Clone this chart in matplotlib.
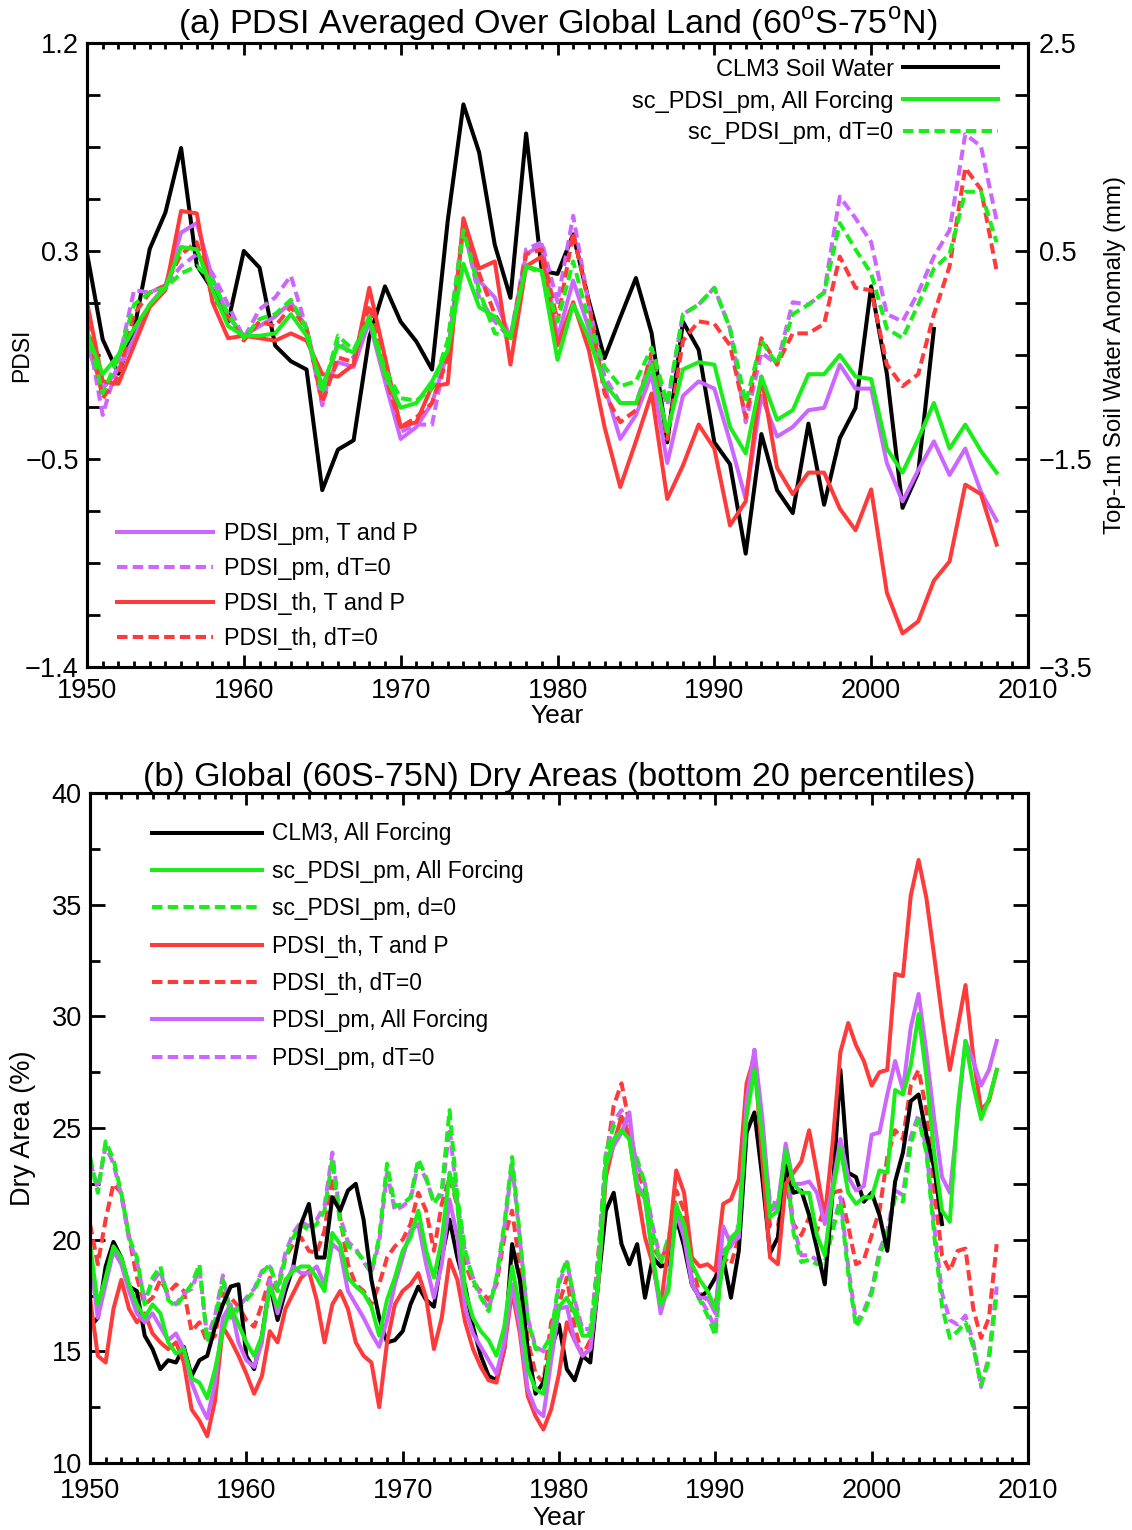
import numpy as np
import matplotlib.pyplot as plt
from matplotlib.ticker import MultipleLocator, FixedLocator, FuncFormatter, NullFormatter

plt.rcParams['font.family'] = 'Liberation Sans'
plt.rcParams['mathtext.fontset'] = 'custom'
plt.rcParams['mathtext.rm'] = 'Liberation Sans'
plt.rcParams['axes.linewidth'] = 2.2

GREEN = '#1aee1a'
RED = '#ff3a3a'
PURPLE = '#cc66ff'
DASH = (2.6, 1.3)
LW = 2.9

# ---------------- panel (a): annual PDSI, 1950-2008 ----------------
years_a = np.arange(1950, 2009)
years_clm_a = np.arange(1950, 2005)

# CLM3 top-1m soil water anomaly (mm), right axis
clm3_soil = [0.48, -0.35, -0.68, -0.26, 0.52, 0.87, 1.49, 0.36, 0.13, -0.18,
             0.50, 0.34, -0.41, -0.56, -0.64, -1.80, -1.41, -1.32, -0.33, 0.16,
             -0.18, -0.37, -0.64, 0.79, 1.91, 1.45, 0.56, 0.05, 1.63, 0.31,
             0.28, 0.66, 0.02, -0.53, -0.14, 0.24, -0.29, -1.34, -0.18, -0.45,
             -1.34, -1.55, -2.41, -1.26, -1.80, -2.02, -1.16, -1.94, -1.30, -1.01,
             0.16, -0.68, -1.97, -1.63, -0.25]

sc_pm_all = [-0.01, -0.18, -0.10, 0.01, 0.11, 0.18, 0.35, 0.34, 0.17, 0.02,
             -0.02, -0.02, -0.01, 0.07, -0.02, -0.23, -0.06, -0.09, 0.05, -0.18,
             -0.32, -0.30, -0.21, -0.08, 0.28, 0.10, 0.06, -0.03, 0.27, 0.25,
             -0.12, 0.11, -0.03, -0.22, -0.30, -0.30, -0.14, -0.42, -0.16, -0.13,
             -0.14, -0.40, -0.51, -0.19, -0.37, -0.33, -0.18, -0.18, -0.10, -0.19,
             -0.20, -0.49, -0.59, -0.45, -0.30, -0.49, -0.39, -0.50, -0.59]
sc_pm_dt0 = [0.01, -0.26, -0.11, 0.11, 0.16, 0.18, 0.24, 0.27, 0.21, 0.07,
             -0.03, 0.05, 0.07, 0.13, 0.01, -0.26, -0.02, -0.08, 0.06, -0.16,
             -0.28, -0.29, -0.24, -0.04, 0.42, 0.17, -0.01, -0.02, 0.27, 0.24,
             0.04, 0.29, 0.04, -0.15, -0.23, -0.21, -0.07, -0.30, 0.07, 0.11,
             0.18, 0.01, -0.30, -0.04, -0.14, 0.07, 0.11, 0.16, 0.45, 0.34,
             0.24, 0.01, -0.03, 0.11, 0.26, 0.32, 0.58, 0.58, 0.37]
pm_tp = [-0.06, -0.24, -0.16, -0.03, 0.11, 0.19, 0.41, 0.45, 0.22, 0.06,
         -0.02, 0.02, 0.06, 0.12, 0.01, -0.26, -0.13, -0.15, 0.04, -0.21,
         -0.45, -0.40, -0.30, -0.09, 0.42, 0.21, 0.14, -0.03, 0.32, 0.36,
         -0.03, 0.21, 0.01, -0.23, -0.45, -0.35, -0.18, -0.55, -0.27, -0.21,
         -0.24, -0.46, -0.70, -0.27, -0.44, -0.40, -0.33, -0.32, -0.14, -0.24,
         -0.24, -0.55, -0.71, -0.58, -0.46, -0.60, -0.49, -0.67, -0.79]
pm_dt0 = [0.01, -0.35, -0.13, 0.17, 0.16, 0.19, 0.27, 0.32, 0.24, 0.11,
          -0.03, 0.09, 0.14, 0.23, 0.01, -0.31, -0.04, -0.11, 0.04, -0.19,
          -0.42, -0.39, -0.39, -0.06, 0.44, 0.14, 0.04, -0.03, 0.34, 0.37,
          0.12, 0.48, 0.11, -0.19, -0.30, -0.30, -0.11, -0.31, 0.07, 0.11,
          0.18, 0.01, -0.38, -0.09, -0.14, 0.12, 0.11, 0.16, 0.56, 0.47,
          0.37, 0.07, 0.04, 0.16, 0.31, 0.42, 0.82, 0.77, 0.46]
th_tp = [0.12, -0.21, -0.22, -0.06, 0.10, 0.17, 0.50, 0.49, 0.12, -0.03,
         -0.02, -0.03, -0.04, -0.01, -0.04, -0.18, -0.19, -0.14, 0.18, -0.11,
         -0.40, -0.38, -0.23, -0.22, 0.47, 0.26, 0.29, -0.14, 0.27, 0.31,
         -0.06, 0.12, -0.08, -0.40, -0.65, -0.46, -0.26, -0.70, -0.56, -0.39,
         -0.49, -0.81, -0.71, -0.19, -0.57, -0.68, -0.59, -0.59, -0.74, -0.83,
         -0.66, -1.09, -1.26, -1.21, -1.04, -0.96, -0.64, -0.68, -0.89]
th_dt0 = [0.04, -0.28, -0.19, 0.07, 0.16, 0.19, 0.32, 0.37, 0.14, 0.06,
          -0.04, 0.04, 0.02, 0.10, 0.01, -0.30, -0.11, -0.13, 0.11, -0.18,
          -0.40, -0.36, -0.30, -0.11, 0.44, 0.24, 0.07, -0.04, 0.32, 0.34,
          0.04, 0.41, 0.11, -0.26, -0.38, -0.33, -0.09, -0.45, -0.04, 0.04,
          0.03, -0.06, -0.36, -0.03, -0.14, -0.01, -0.01, 0.03, 0.31, 0.18,
          0.17, -0.14, -0.23, -0.18, 0.07, 0.27, 0.68, 0.59, 0.25]

# ---------------- panel (b): dry area (%), half-year steps ----------------
years_b = np.arange(1950.0, 2008.01, 0.5)
years_clm_b = np.arange(1950.0, 2004.51, 0.5)

clm3_dry = [16.1, 16.5, 18.8, 19.9, 19.2, 17.9, 17.7, 15.7, 15.1, 14.2,
            14.6, 14.5, 15.2, 13.9, 14.6, 14.8, 16.1, 17.1, 17.9, 18.0,
            14.8, 14.2, 15.7, 18.0, 16.4, 17.7, 18.8, 20.7, 21.6, 19.2,
            19.2, 21.9, 21.3, 22.2, 22.5, 20.9, 18.2, 16.5, 15.4, 15.5,
            15.9, 17.1, 17.9, 17.3, 17.0, 19.2, 20.9, 19.2, 17.9, 16.1,
            14.8, 13.9, 13.7, 15.1, 19.8, 18.2, 15.1, 13.1, 13.6, 15.1,
            16.2, 14.2, 13.7, 14.8, 14.5, 18.0, 21.3, 22.1, 19.8, 18.9,
            19.8, 17.4, 19.2, 18.8, 18.9, 21.0, 19.7, 18.0, 17.4, 17.7,
            18.3, 19.2, 17.4, 19.5, 24.8, 25.7, 22.8, 19.4, 20.1, 23.3,
            22.1, 22.2, 21.1, 19.6, 18.0, 22.1, 27.6, 23.0, 22.8, 21.7,
            22.1, 21.1, 19.5, 22.6, 23.9, 26.2, 26.5, 24.7, 23.2, 20.7]
sc_pm_all_dry = [19.8, 17.1, 18.3, 19.7, 19.2, 18.0, 17.1, 16.5, 17.1, 16.7,
                 15.4, 14.9, 15.1, 13.8, 13.6, 12.9, 14.2, 15.9, 17.0, 16.2,
                 15.4, 14.8, 15.7, 17.9, 17.0, 18.2, 18.6, 18.8, 18.8, 18.3,
                 17.7, 20.3, 19.8, 18.3, 17.9, 17.6, 17.0, 15.7, 17.3, 18.3,
                 19.5, 20.1, 21.3, 19.5, 18.3, 20.0, 23.0, 21.6, 17.7, 16.5,
                 15.9, 15.5, 14.8, 16.1, 18.8, 16.9, 14.2, 13.3, 13.1, 15.4,
                 17.0, 17.4, 16.7, 15.7, 15.7, 18.0, 23.3, 24.5, 24.9, 24.5,
                 22.2, 21.9, 19.2, 17.1, 17.7, 21.5, 20.7, 18.9, 18.2, 17.7,
                 16.9, 18.9, 20.1, 20.4, 25.5, 27.6, 24.6, 21.0, 21.3, 24.0,
                 22.5, 22.1, 22.1, 20.2, 19.3, 22.1, 24.1, 22.1, 21.6, 21.9,
                 21.9, 23.1, 23.0, 26.7, 26.5, 27.8, 30.1, 27.3, 23.9, 21.3,
                 20.8, 25.8, 28.9, 26.9, 25.4, 26.3, 27.6]
sc_pm_d0_dry = [23.7, 22.1, 24.4, 23.6, 22.1, 20.1, 19.2, 17.1, 18.3, 18.8,
                17.3, 17.0, 17.5, 18.0, 18.9, 15.4, 16.4, 18.2, 16.5, 16.9,
                17.3, 17.7, 18.5, 18.9, 17.7, 19.2, 20.1, 20.7, 20.4, 20.7,
                21.3, 23.6, 20.7, 19.7, 19.5, 19.1, 18.6, 20.1, 23.4, 21.5,
                21.6, 21.9, 23.6, 22.8, 21.6, 22.2, 25.8, 21.9, 19.5, 18.2,
                17.4, 16.8, 18.3, 20.7, 23.7, 20.1, 16.4, 15.1, 15.1, 15.7,
                18.2, 19.1, 17.1, 15.8, 15.8, 18.9, 23.9, 25.1, 25.5, 24.6,
                23.6, 22.5, 20.3, 18.9, 20.1, 21.6, 20.1, 18.0, 17.3, 16.6,
                15.7, 19.5, 19.8, 20.7, 26.1, 28.0, 24.6, 21.5, 21.5, 23.6,
                20.3, 19.0, 19.1, 18.9, 18.9, 20.4, 21.7, 18.5, 16.1, 16.7,
                17.6, 19.3, 20.2, 21.9, 21.7, 24.3, 25.4, 23.9, 20.2, 17.0,
                15.6, 15.9, 16.3, 15.2, 13.5, 14.6, 17.6]
th_tp_dry = [17.4, 14.8, 14.5, 16.9, 18.2, 16.9, 16.3, 16.7, 15.8, 15.4,
             15.1, 15.4, 14.5, 12.4, 11.9, 11.2, 12.8, 16.1, 15.5, 14.8,
             14.0, 13.1, 13.9, 15.9, 15.4, 16.9, 17.6, 18.3, 18.6, 17.3,
             15.4, 17.1, 17.7, 16.9, 15.4, 14.8, 14.5, 12.5, 15.4, 17.1,
             17.7, 18.0, 18.5, 17.4, 15.1, 16.5, 19.1, 18.2, 16.3, 15.1,
             14.3, 13.7, 13.6, 15.1, 17.7, 15.8, 13.0, 12.1, 11.5, 12.4,
             14.0, 16.3, 15.5, 14.8, 15.1, 18.0, 22.8, 24.3, 25.5, 24.6,
             22.2, 20.1, 18.9, 17.0, 19.7, 23.1, 22.1, 19.2, 18.8, 18.9,
             18.6, 21.6, 21.8, 22.7, 27.0, 28.2, 23.6, 19.2, 18.9, 22.5,
             23.0, 23.5, 24.9, 23.0, 21.0, 24.3, 28.4, 29.7, 28.7, 28.0,
             26.9, 27.5, 27.6, 31.9, 31.8, 35.4, 37.0, 35.3, 32.7, 30.0,
             27.6, 29.5, 31.4, 28.2, 25.8, 26.2, 27.6]
th_dt0_dry = [20.7, 18.9, 20.9, 22.5, 22.1, 20.1, 18.3, 17.1, 17.4, 18.2,
              17.6, 18.0, 17.7, 15.9, 16.3, 15.4, 15.7, 17.6, 17.4, 17.0,
              16.4, 16.1, 17.1, 18.3, 17.7, 19.2, 19.8, 20.1, 19.5, 19.4,
              20.4, 22.8, 21.0, 18.9, 18.0, 17.7, 17.1, 18.0, 19.2, 19.7,
              20.0, 20.7, 22.1, 21.3, 19.5, 21.6, 22.8, 21.5, 18.9, 18.0,
              17.7, 17.3, 18.0, 20.1, 21.3, 18.8, 15.5, 14.0, 13.6, 16.3,
              17.1, 18.3, 16.1, 14.8, 15.5, 19.2, 23.6, 26.0, 27.0, 25.2,
              23.1, 22.2, 19.7, 19.1, 19.8, 22.2, 21.3, 18.8, 17.6, 17.3,
              17.1, 19.2, 18.9, 20.1, 26.2, 28.0, 24.5, 20.6, 20.6, 22.8,
              20.7, 20.2, 21.0, 20.4, 21.5, 22.1, 22.2, 20.6, 18.9, 19.1,
              20.2, 21.3, 23.7, 24.9, 24.5, 26.9, 27.6, 25.8, 22.2, 19.3,
              18.6, 19.5, 19.6, 16.9, 15.6, 16.5, 19.8]
pm_all_dry = [19.3, 16.5, 18.0, 19.5, 18.9, 17.7, 16.7, 16.3, 16.7, 16.1,
              15.5, 15.8, 15.1, 13.6, 12.7, 12.0, 13.6, 16.5, 17.1, 15.4,
              14.6, 14.3, 15.4, 18.2, 16.7, 18.0, 18.8, 18.5, 18.5, 18.8,
              18.0, 19.8, 19.5, 17.7, 17.1, 16.5, 15.8, 15.2, 16.4, 18.0,
              19.2, 20.4, 20.7, 18.9, 17.4, 18.9, 21.8, 20.1, 16.9, 15.8,
              15.2, 14.6, 14.0, 15.4, 18.0, 16.1, 13.3, 12.4, 12.1, 14.6,
              16.9, 17.0, 15.5, 14.8, 15.1, 18.0, 23.3, 24.2, 24.8, 25.7,
              22.5, 21.8, 19.2, 16.7, 18.0, 21.2, 20.1, 18.0, 17.4, 17.4,
              16.7, 20.6, 19.8, 20.1, 26.2, 28.5, 25.5, 21.3, 21.5, 24.3,
              22.5, 22.5, 22.6, 22.1, 20.7, 22.4, 24.5, 22.8, 22.2, 22.4,
              24.7, 24.8, 26.5, 28.0, 26.7, 29.5, 31.0, 28.4, 25.4, 22.8,
              22.1, 25.4, 28.9, 28.0, 26.9, 27.6, 28.9]
pm_dt0_dry = [23.5, 22.3, 24.2, 23.4, 22.0, 20.0, 19.0, 17.3, 18.1, 18.6,
              17.4, 17.1, 17.6, 17.8, 18.7, 15.6, 16.6, 18.4, 16.7, 17.0,
              17.4, 17.8, 18.6, 18.8, 17.9, 19.4, 20.3, 20.8, 20.6, 20.9,
              21.5, 23.9, 21.0, 19.9, 19.6, 19.0, 18.5, 19.9, 23.0, 21.3,
              21.5, 21.8, 23.4, 22.7, 21.7, 22.0, 25.0, 21.7, 19.4, 18.3,
              17.5, 16.9, 18.2, 20.5, 23.4, 20.0, 16.5, 15.2, 15.0, 15.6,
              18.0, 19.0, 17.3, 16.0, 16.0, 19.0, 23.8, 25.3, 25.8, 24.8,
              23.4, 22.5, 20.6, 19.1, 20.0, 21.4, 20.3, 18.3, 17.4, 16.8,
              16.0, 19.4, 19.7, 20.6, 26.3, 28.5, 24.8, 21.7, 21.6, 23.9,
              20.6, 19.3, 19.3, 19.1, 19.0, 20.5, 21.9, 18.8, 16.3, 16.8,
              17.7, 19.5, 20.4, 22.2, 22.0, 24.6, 25.6, 24.1, 20.6, 17.6,
              16.4, 16.2, 16.6, 15.4, 13.4, 14.8, 17.9]


def minus_fmt(x, pos):
    return f'{x:.1f}'.replace('-', '\u2212')


def style_xaxis(ax, pad, labelpad):
    ax.set_xlim(1950, 2010)
    ax.xaxis.set_major_locator(MultipleLocator(10))
    ax.xaxis.set_minor_locator(MultipleLocator(1))
    ax.tick_params(axis='x', which='both', direction='in', top=True, width=2)
    ax.tick_params(axis='x', which='major', length=8.5, labelsize=19.5, pad=pad)
    ax.tick_params(axis='x', which='minor', length=4.3)
    ax.set_xlabel('Year', fontsize=19, labelpad=labelpad)


fig = plt.figure(figsize=(11.32, 15.30), dpi=100)

# ---------- (a) ----------
ax = fig.add_axes([87 / 1132, 1 - 667 / 1530, 941 / 1132, 624 / 1530])
ax2 = ax.twinx()
ax2.set_zorder(ax.get_zorder() - 1)
ax.patch.set_visible(False)

ax.set_ylim(-1.4, 1.2)
ax.yaxis.set_major_locator(FixedLocator(np.linspace(-1.4, 1.2, 4)))
ax.yaxis.set_minor_locator(FixedLocator(np.linspace(-1.4, 1.2, 13)))
ax.yaxis.set_major_formatter(FuncFormatter(minus_fmt))
ax.tick_params(axis='y', which='both', direction='in', length=9.5, width=2,
               labelsize=19.5, pad=6, right=False)
style_xaxis(ax, pad=8, labelpad=0)
ax.set_ylabel('PDSI', fontsize=16.5)
ax.yaxis.set_label_coords(-0.057, 0.5)

ax2.set_ylim(-3.5, 2.5)
ax2.yaxis.set_major_locator(FixedLocator(np.linspace(-3.5, 2.5, 4)))
ax2.yaxis.set_minor_locator(FixedLocator(np.linspace(-3.5, 2.5, 13)))
ax2.yaxis.set_major_formatter(FuncFormatter(minus_fmt))
ax2.tick_params(axis='y', which='both', direction='in', length=9.5, width=2,
                labelsize=19.5, pad=8)
ax2.set_ylabel('Top-1m Soil Water Anomaly (mm)', fontsize=17.3, labelpad=8)

l_clm, = ax2.plot(years_clm_a, clm3_soil, color='black', lw=LW)
l_pm, = ax.plot(years_a, pm_tp, color=PURPLE, lw=LW)
l_pm0, = ax.plot(years_a, pm_dt0, color=PURPLE, lw=LW, dashes=DASH)
l_th, = ax.plot(years_a, th_tp, color=RED, lw=LW)
l_th0, = ax.plot(years_a, th_dt0, color=RED, lw=LW, dashes=DASH)
l_sc, = ax.plot(years_a, sc_pm_all, color=GREEN, lw=LW)
l_sc0, = ax.plot(years_a, sc_pm_dt0, color=GREEN, lw=LW, dashes=DASH)

ax.set_title(r'(a) PDSI Averaged Over Global Land (60$^{\rm o}$S-75$^{\rm o}$N)',
             fontsize=24.6, pad=3)

leg1 = ax.legend([l_clm, l_sc, l_sc0],
                 ['CLM3 Soil Water', 'sc_PDSI_pm, All Forcing', 'sc_PDSI_pm, dT=0'],
                 loc='upper right', bbox_to_anchor=(0.968, 0.975), markerfirst=False,
                 frameon=False, fontsize=17, handlelength=4.0, handletextpad=0.42,
                 labelspacing=0.42, borderpad=0, borderaxespad=0)
ax.add_artist(leg1)
ax.legend([l_pm, l_pm0, l_th, l_th0],
          ['PDSI_pm, T and P', 'PDSI_pm, dT=0', 'PDSI_th, T and P', 'PDSI_th, dT=0'],
          loc='lower left', bbox_to_anchor=(0.032, 0.027),
          frameon=False, fontsize=16.8, handlelength=4.1, handletextpad=0.5,
          labelspacing=0.52, borderpad=0, borderaxespad=0)

# ---------- (b) ----------
bx = fig.add_axes([90 / 1132, 1 - 1463 / 1530, 938 / 1132, 670 / 1530])
bx.set_ylim(10, 40)
bx.yaxis.set_major_locator(MultipleLocator(5))
bx.yaxis.set_minor_locator(MultipleLocator(2.5))
bx.tick_params(axis='y', which='both', direction='in', width=2, labelsize=19.5,
               pad=6, right=False)
bx.tick_params(axis='y', which='major', length=10.8)
bx.tick_params(axis='y', which='minor', length=7.2)
style_xaxis(bx, pad=11, labelpad=1.5)
bx.set_ylabel('Dry Area (%)', fontsize=19.5)
bx.yaxis.set_label_coords(-0.058, 0.5)

bx_r = bx.twinx()
bx_r.set_ylim(10, 40)
bx_r.yaxis.set_major_locator(MultipleLocator(2.5))
bx_r.yaxis.set_major_formatter(NullFormatter())
bx_r.tick_params(axis='y', direction='in', length=11, width=2)

kw = dict(lw=LW, solid_joinstyle='round')
b_th0, = bx.plot(years_b, th_dt0_dry, color=RED, dashes=DASH, **kw)
b_pm0, = bx.plot(years_b, pm_dt0_dry, color=PURPLE, dashes=DASH, **kw)
b_sc0, = bx.plot(years_b, sc_pm_d0_dry, color=GREEN, dashes=DASH, **kw)
b_clm, = bx.plot(years_clm_b, clm3_dry, color='black', **kw)
b_th, = bx.plot(years_b, th_tp_dry, color=RED, **kw)
b_pm, = bx.plot(years_b, pm_all_dry, color=PURPLE, **kw)
b_sc, = bx.plot(years_b, sc_pm_all_dry, color=GREEN, **kw)

bx.set_title('(b) Global (60S-75N) Dry Areas (bottom 20 percentiles)',
             fontsize=24.5, pad=4)

bx.legend([b_clm, b_sc, b_sc0, b_th, b_th0, b_pm, b_pm0],
          ['CLM3, All Forcing', 'sc_PDSI_pm, All Forcing', 'sc_PDSI_pm, d=0',
           'PDSI_th, T and P', 'PDSI_th, dT=0', 'PDSI_pm, All Forcing', 'PDSI_pm, dT=0'],
          loc='upper left', bbox_to_anchor=(0.066, 0.956),
          frameon=False, fontsize=16.4, handlelength=4.85, handletextpad=0.44,
          labelspacing=0.63, borderpad=0, borderaxespad=0)

fig.savefig('out.png', dpi=100)
